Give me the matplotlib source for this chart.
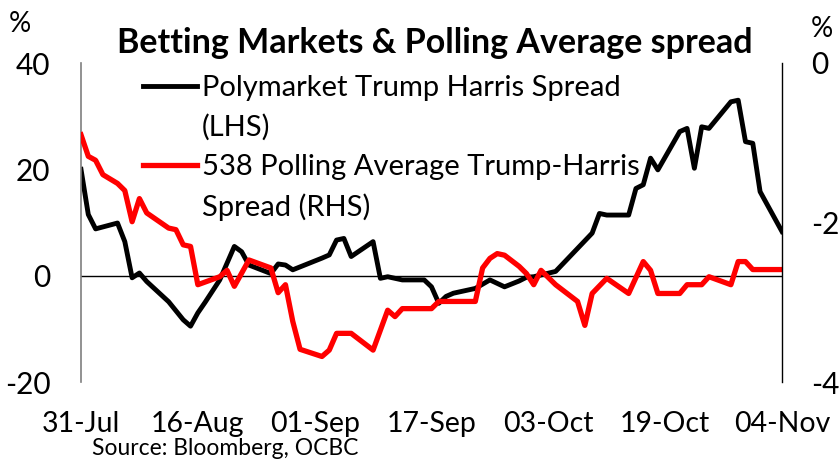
import pandas as pd
import matplotlib
matplotlib.use("Agg")
import matplotlib.pyplot as plt
import matplotlib.dates as mdates
from matplotlib.lines import Line2D

plt.rcParams['font.family'] = ['Lato', 'DejaVu Sans']

start = pd.Timestamp('2024-07-31')

# Polymarket Trump-Harris spread, % (LHS), by day offset from 31-Jul
poly_days = [0, 1, 2, 5, 6, 7, 8, 9, 12, 14, 15, 16, 17, 19, 21, 22, 23, 26, 27, 28, 29,
             33, 34, 35, 36, 37, 40, 41, 42, 44, 47, 48, 49, 50, 51, 54, 56, 58, 60, 61,
             62, 65, 70, 71, 72, 75, 76, 77, 78, 79, 82, 83, 84, 85, 86, 89, 90, 91, 92,
             93, 96]
poly_vals = [20.0, 11.5, 8.8, 9.9, 6.4, -0.4, 0.5, -1.1, -4.9, -8.3, -9.5, -7.0, -5.0,
             -0.8, 5.5, 4.5, 2.0, 0.4, 2.2, 2.0, 1.1, 3.3, 3.9, 6.7, 7.0, 3.6, 6.4, -0.5,
             -0.2, -0.8, -0.8, -2.1, -5.2, -3.9, -3.3, -2.4, -0.8, -2.1, -1.0, -0.3,
             -0.2, 0.8, 8.0, 11.7, 11.4, 11.4, 16.4, 17.1, 22.1, 19.9, 27.1, 27.7, 20.2,
             28.0, 27.7, 32.7, 33.0, 25.2, 24.9, 15.8, 8.3]

# 538 polling average Trump-Harris spread, % (RHS)
poll_days = [0, 1, 2, 3, 5, 6, 7, 8, 9, 12, 13, 14, 15, 16, 19, 20, 21, 23, 26, 27, 28,
             29, 30, 33, 34, 35, 37, 40, 42, 43, 44, 48, 49, 54, 55, 56, 57, 58, 60, 61,
             62, 63, 65, 68, 69, 70, 72, 75, 77, 78, 79, 82, 83, 85, 86, 89, 90, 91, 92,
             96]
poll_vals = [-0.90, -1.17, -1.22, -1.40, -1.51, -1.60, -1.99, -1.70, -1.88, -2.07, -2.09,
             -2.28, -2.30, -2.78, -2.68, -2.60, -2.80, -2.47, -2.57, -2.88, -2.78, -3.24,
             -3.59, -3.68, -3.60, -3.39, -3.39, -3.60, -3.10, -3.18, -3.08, -3.08, -2.99,
             -2.99, -2.57, -2.45, -2.39, -2.41, -2.55, -2.64, -2.78, -2.60, -2.78, -2.99,
             -3.29, -2.89, -2.70, -2.89, -2.49, -2.60, -2.89, -2.89, -2.78, -2.78, -2.68,
             -2.78, -2.49, -2.49, -2.59, -2.59]

tick_dates = ['2024-07-31', '2024-08-16', '2024-09-01', '2024-09-17',
              '2024-10-03', '2024-10-19', '2024-11-04']

poly_x = [start + pd.Timedelta(days=d) for d in poly_days]
poll_x = [start + pd.Timedelta(days=d) for d in poll_days]

fig = plt.figure(figsize=(8.39, 4.65), dpi=100)
ax = fig.add_axes([81 / 839, 1 - 382 / 465, (782 - 81) / 839, (382 - 63) / 465])
ax2 = ax.twinx()

ax.plot(poly_x, poly_vals, color='black', lw=3.5, solid_joinstyle='round')
ax2.plot(poll_x, poll_vals, color='#ff0000', lw=3.8, solid_joinstyle='round')
ax.axhline(0, color='black', lw=1.0, zorder=1)

ax.set_ylim(-20, 40)
ax.set_yticks([-20, 0, 20, 40])
ax2.set_ylim(-4, 0)
ax2.set_yticks([-4, -2, 0])
ax.set_xlim(start, pd.Timestamp('2024-11-04'))
ax.set_xticks(pd.to_datetime(tick_dates))
ax.xaxis.set_major_formatter(mdates.DateFormatter('%d-%b'))

for a in (ax, ax2):
    a.spines['top'].set_visible(False)
    a.spines['bottom'].set_visible(False)
    a.tick_params(length=0, labelsize=21.5)
ax.tick_params(axis='x', labelsize=20.5)
ax.spines['left'].set_color('#7f7f7f')
ax.spines['left'].set_linewidth(1.2)
ax.spines['right'].set_visible(False)
ax2.spines['left'].set_visible(False)
ax2.spines['right'].set_color('black')
ax2.spines['right'].set_linewidth(1.0)
ax.tick_params(axis='y', pad=22)
ax2.tick_params(axis='y', pad=21)
ax.tick_params(axis='x', pad=21)
ax.yaxis.set_major_formatter(plt.FuncFormatter(lambda v, p: f'{v:.0f}'))
ax2.yaxis.set_major_formatter(plt.FuncFormatter(lambda v, p: f'{v:.0f}'))

fig.text(435 / 839, 1 - 43 / 465, 'Betting Markets & Polling Average spread',
         ha='center', va='center', fontsize=24.5, fontweight='bold')
fig.text(20 / 839, 1 - 24 / 465, '%', ha='center', va='center', fontsize=20)
fig.text(822 / 839, 1 - 29 / 465, '%', ha='center', va='center', fontsize=20)
fig.text(92 / 839, 1 - 448 / 465, 'Source: Bloomberg, OCBC', ha='left', va='center',
         fontsize=16.5)

# legend rows: continuation lines get an empty handle so samples sit on the first line
blank = Line2D([], [], color='none')
handles = [Line2D([], [], color='black', lw=3.5), blank,
           Line2D([], [], color='#ff0000', lw=3.8), blank]
labels = ['Polymarket Trump Harris Spread', '(LHS)',
          '538 Polling Average Trump-Harris', 'Spread (RHS)']
ax2.legend(handles, labels, loc='upper left', bbox_to_anchor=(143 / 839, 1 - 75 / 465),
           bbox_transform=fig.transFigure, frameon=False, fontsize=21,
           handlelength=1.85, handletextpad=0.17, labelspacing=0.45, borderpad=0,
           borderaxespad=0)

fig.savefig('out.png', dpi=100)
